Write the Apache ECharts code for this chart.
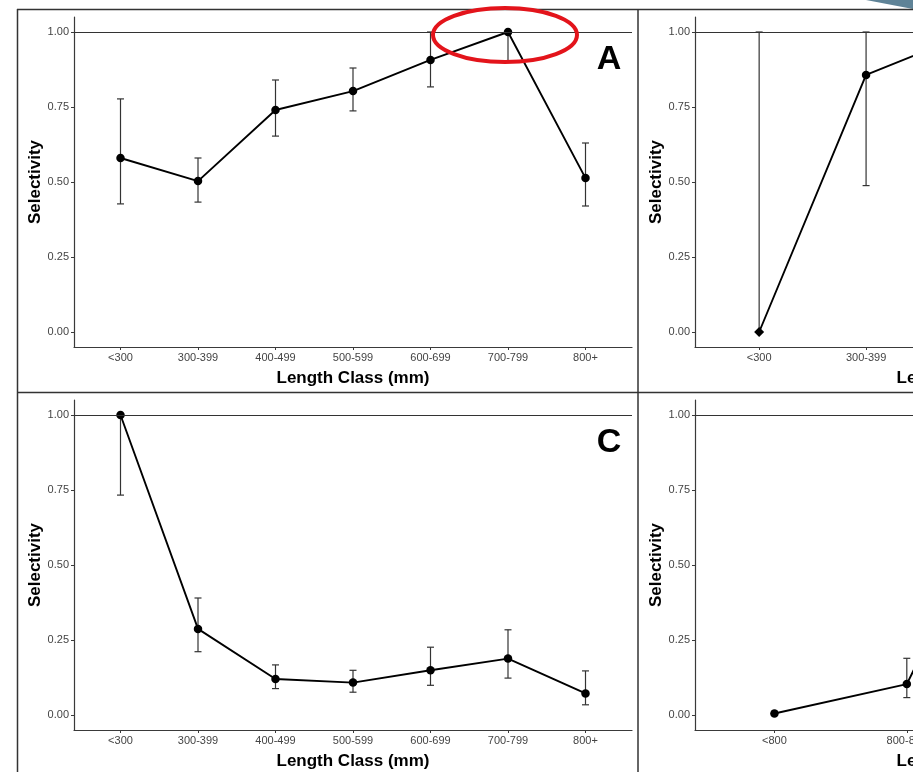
<!DOCTYPE html>
<html>
<head>
<meta charset="utf-8">
<script src="https://cdn.jsdelivr.net/npm/echarts@6/dist/echarts.min.js"></script>
<style>
html,body{margin:0;padding:0;background:#fff;overflow:hidden;}
#chart{width:913px;height:772px;}
</style>
</head>
<body>
<div id="chart"></div>
<script>
// Panel A
const catA = ['<300','300-399','400-499','500-599','600-699','700-799','800+'];
const selA = [0.58, 0.503, 0.74, 0.803, 0.907, 1.0, 0.513];
const loA  = [0.427, 0.433, 0.653, 0.737, 0.817, 0.90, 0.42];
const hiA  = [0.777, 0.58, 0.84, 0.88, 1.0, 1.0, 0.63];
// Panel B (only the first classes are visible in the reference)
const catB = ['<300','300-399','400-499','500-599','600+'];
const selB = [0.0, 0.857, 1.0];
const loB  = [0.0, 0.488, 1.0];
const hiB  = [1.0, 1.0, 1.0];
// Panel C
const catC = ['<300','300-399','400-499','500-599','600-699','700-799','800+'];
const selC = [1.0, 0.287, 0.12, 0.108, 0.149, 0.188, 0.072];
const loC  = [0.733, 0.211, 0.088, 0.076, 0.099, 0.123, 0.034];
const hiC  = [1.0, 0.39, 0.167, 0.149, 0.226, 0.284, 0.147];
// Panel D (only the first classes are visible in the reference)
const catD = ['<800','800-899','900-999','1000+'];
const selD = [0.005, 0.103, 1.0];
const loD  = [0.0, 0.058, 1.0];
const hiD  = [0.012, 0.189, 1.0];
// y tick labels
const yTicks = [0, 0.25, 0.5, 0.75, 1.0];

const FONT = '"Liberation Sans", Arial, sans-serif';
const AX = '#3a3a3a';

const panels = [
  {cats: catA, sel: selA, lo: loA, hi: hiA, left: 74,  top: 17,  width: 558},
  {cats: catB, sel: selB, lo: loB, hi: hiB, left: 695, top: 17,  width: 556},
  {cats: catC, sel: selC, lo: loC, hi: hiC, left: 74,  top: 400, width: 558},
  {cats: catD, sel: selD, lo: loD, hi: hiD, left: 695, top: 400, width: 556}
];

const grids = [], xAxes = [], yAxes = [], series = [];
panels.forEach((p, i) => {
  const n = p.cats.length;
  grids.push({left: p.left, top: p.top, width: p.width, height: 330, containLabel: false, outerBoundsMode: 'none'});
  const idx = Array.from({length: n}, (_, k) => k + 1);
  xAxes.push({
    type: 'value', gridIndex: i, min: 0.4, max: n + 0.6,
    name: 'Length Class (mm)', nameLocation: 'middle', nameGap: 23, nameMoveOverlap: false,
    nameTextStyle: {fontFamily: FONT, fontWeight: 'bold', fontSize: 17, color: '#000'},
    axisLine: {show: true, onZero: false, lineStyle: {color: AX, width: 1.2}},
    axisTick: {show: true, customValues: idx, length: 3, lineStyle: {color: AX, width: 1}},
    axisLabel: {customValues: idx, formatter: v => p.cats[Math.round(v) - 1] || '',
      fontFamily: FONT, fontSize: 11, color: '#444', margin: 5},
    splitLine: {show: false}
  });
  yAxes.push({
    type: 'value', gridIndex: i, min: -0.05, max: 1.05,
    name: 'Selectivity', nameLocation: 'middle', nameGap: 30, nameRotate: 90, nameMoveOverlap: false,
    nameTextStyle: {fontFamily: FONT, fontWeight: 'bold', fontSize: 17, color: '#000'},
    axisLine: {show: true, onZero: false, lineStyle: {color: AX, width: 1.2}},
    axisTick: {show: true, customValues: yTicks, length: 3, lineStyle: {color: AX, width: 1}},
    axisLabel: {customValues: yTicks, formatter: v => v.toFixed(2),
      fontFamily: FONT, fontSize: 11, color: '#444', margin: 5},
    splitLine: {show: false}
  });
  // error bars
  series.push({
    type: 'custom', xAxisIndex: i, yAxisIndex: i, clip: true,
    data: p.sel.map((v, k) => [k + 1, p.lo[k], p.hi[k]]),
    encode: {x: 0, y: [1, 2]},
    renderItem: (params, api) => {
      const x = api.value(0);
      const a = api.coord([x, api.value(1)]);
      const b = api.coord([x, api.value(2)]);
      const w = 3.5;
      const st = {stroke: '#333', lineWidth: 1.2};
      return {type: 'group', children: [
        {type: 'line', shape: {x1: a[0], y1: a[1], x2: b[0], y2: b[1]}, style: st},
        {type: 'line', shape: {x1: a[0] - w, y1: a[1], x2: a[0] + w, y2: a[1]}, style: st},
        {type: 'line', shape: {x1: b[0] - w, y1: b[1], x2: b[0] + w, y2: b[1]}, style: st}
      ]};
    },
    z: 2
  });
  // main line
  series.push({
    type: 'line', xAxisIndex: i, yAxisIndex: i,
    data: p.sel.map((v, k) => [k + 1, v]),
    symbol: (val, prm) => (i === 1 && prm.dataIndex === 0) ? 'diamond' : 'circle',
    symbolSize: (val, prm) => (i === 1 && prm.dataIndex === 0) ? 10 : 8.5,
    lineStyle: {color: '#000', width: 1.9},
    itemStyle: {color: '#000'},
    silent: true, animation: false, z: 3,
    markLine: {
      silent: true, symbol: 'none', animation: false,
      label: {show: false},
      lineStyle: {color: '#333', width: 1, type: 'solid'},
      data: [{yAxis: 1}]
    }
  });
});

const chart = echarts.init(document.getElementById('chart'), null, {renderer: 'canvas'});
chart.setOption({
  animation: false,
  backgroundColor: '#fff',
  grid: grids,
  xAxis: xAxes,
  yAxis: yAxes,
  series: series,
  graphic: [
    // slide decoration
    {type: 'polygon', shape: {points: [[866, 0], [913, 0], [913, 9]]}, style: {fill: '#5f8397'}, z: 10},
    // panel frames
    {type: 'line', shape: {x1: 17, y1: 9.5, x2: 913, y2: 9.5}, style: {stroke: '#333', lineWidth: 1.5}, z: 10},
    {type: 'line', shape: {x1: 17, y1: 392.5, x2: 913, y2: 392.5}, style: {stroke: '#333', lineWidth: 1.5}, z: 10},
    {type: 'line', shape: {x1: 17.5, y1: 9, x2: 17.5, y2: 772}, style: {stroke: '#333', lineWidth: 1.5}, z: 10},
    {type: 'line', shape: {x1: 638, y1: 9, x2: 638, y2: 772}, style: {stroke: '#333', lineWidth: 1.5}, z: 10},
    // panel letters
    {type: 'text', x: 609, y: 60, style: {text: 'A', font: 'bold 34px "Liberation Sans", Arial, sans-serif', fill: '#000', align: 'center', verticalAlign: 'middle'}, z: 10},
    {type: 'text', x: 609, y: 443, style: {text: 'C', font: 'bold 34px "Liberation Sans", Arial, sans-serif', fill: '#000', align: 'center', verticalAlign: 'middle'}, z: 10},
    // red highlight ellipse
    {type: 'ellipse', shape: {cx: 505, cy: 35, rx: 72, ry: 27}, style: {fill: 'none', stroke: '#e3141b', lineWidth: 4}, z: 20}
  ]
});
</script>
</body>
</html>
